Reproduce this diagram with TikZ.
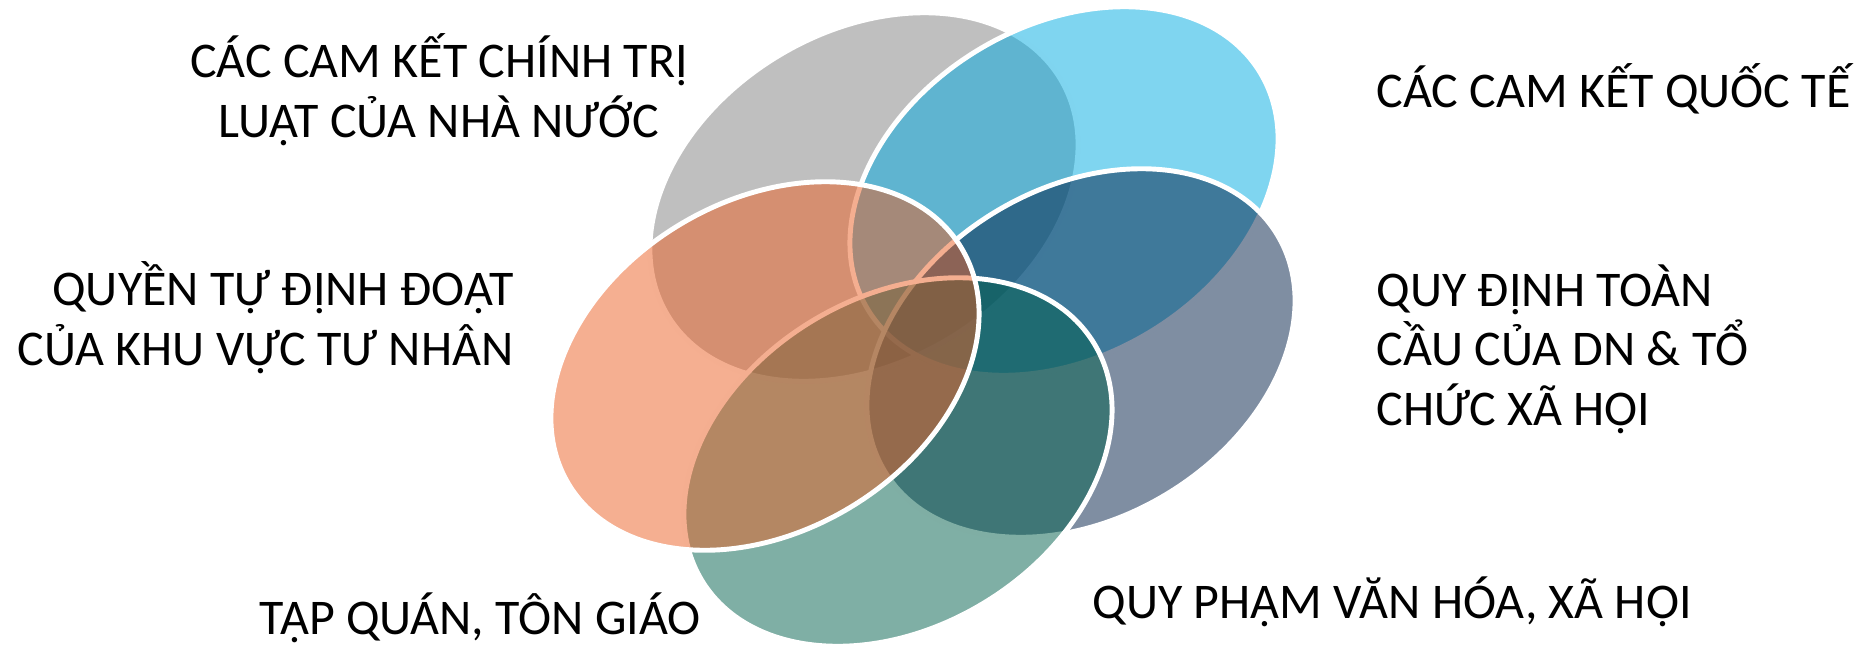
\documentclass[tikz,border=0pt]{standalone}
\usepackage{fontspec}
\setmainfont{Carlito}
\usetikzlibrary{shapes.geometric}
\definecolor{setGray}{RGB}{128,128,128}
\definecolor{setSky}{RGB}{0,171,225}
\definecolor{setNavy}{RGB}{0,30,70}
\definecolor{setTeal}{RGB}{0,95,75}
\definecolor{setOrange}{RGB}{235,95,35}
\tikzstyle{vset}=[draw=white, line width=1.4pt, shape=ellipse, rotate=31, minimum width=4.58cm, minimum height=3.30cm, inner sep=0pt, fill opacity=0.5]
\tikzstyle{lbl}=[font=\fontsize{14.2}{16.8}\selectfont, inner sep=0pt, text=black]
\def\vset{\node[style=vset]}
\def\lbl{\node[style=lbl]}

\begin{document}
\begin{tikzpicture}[x=0.01cm, y=0.01cm]
      \useasboundingbox (0,0) rectangle (1865,650);
      % sets
      \vset[fill=setGray]   (Egray)   at (864,453)  {};
      \vset[fill=setSky]    (Esky)    at (1064,459) {};
      \vset[fill=setNavy]   (Enavy)   at (1081,297) {};
      \vset[fill=setTeal]   (Eteal)   at (898,188)  {};
      \vset[fill=setOrange] (Eorange) at (765,284)  {};
      % labels
      \lbl (Tpol)  [anchor=base, align=center]     at (439,513)  {CÁC CAM KẾT CHÍNH TRỊ\\LUẬT CỦA NHÀ NƯỚC};
      \lbl (Tint)  [anchor=base west]              at (1376,543) {CÁC CAM KẾT QUỐC TẾ};
      \lbl (Tpriv) [anchor=base east, align=right] at (514,285)  {QUYỀN TỰ ĐỊNH ĐOẠT\\CỦA KHU VỰC TƯ NHÂN};
      \lbl (Tglob) [anchor=base west, align=left]  at (1376,225) {QUY ĐỊNH TOÀN\\CẦU CỦA DN \& TỔ\\CHỨC XÃ HỘI};
      \lbl (Tcust) [anchor=base west]              at (259,16)   {TẬP QUÁN, TÔN GIÁO};
      \lbl (Tcult) [anchor=base west]              at (1092,32)  {QUY PHẠM VĂN HÓA, XÃ HỘI};
\end{tikzpicture}
\end{document}
